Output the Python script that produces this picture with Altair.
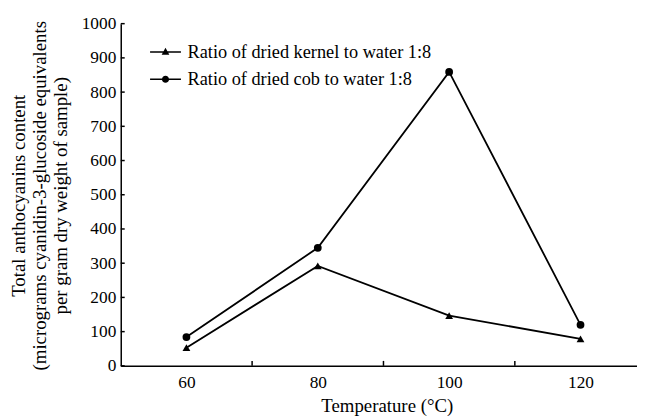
import altair as alt
import pandas as pd

temps = [60, 80, 100, 120]
kernel = [53, 292, 147, 79]
cob = [84, 345, 859, 120]
series_names = ["Ratio of dried kernel to water 1:8", "Ratio of dried cob to water 1:8"]
x_labels = [60, 80, 100, 120]
x_minor = [70, 90, 110]
y_ticks = [0, 100, 200, 300, 400, 500, 600, 700, 800, 900, 1000]

rows = []
for t, v in zip(temps, kernel):
    rows.append({"temp": t, "value": v, "series": series_names[0]})
for t, v in zip(temps, cob):
    rows.append({"temp": t, "value": v, "series": series_names[1]})
df = pd.DataFrame(rows)

FONT = "Liberation Serif"
W, H = 522, 346

xscale = alt.Scale(domain=[50, 128.6], nice=False, zero=False)
yscale = alt.Scale(domain=[0, 1000], nice=False)

x_axis = alt.Axis(values=x_labels, format="d", ticks=False, tickSize=0, grid=False,
                  labelPadding=8, labelOverlap=False,
                  labelFont=FONT, labelFontSize=17.5, labelColor="black",
                  domainColor="black", domainWidth=1.5,
                  title="Temperature (°C)", titleFont=FONT, titleFontSize=19,
                  titleFontWeight="normal", titleColor="black",
                  titleX=269, titleY=46.5, titleAlign="center",
                  titleBaseline="alphabetic", titleAnchor="start")
y_axis = alt.Axis(values=y_ticks, format="d", ticks=False, tickSize=0, grid=False,
                  labelPadding=5, labelOverlap=False,
                  labelFont=FONT, labelFontSize=17.5, labelColor="black",
                  domainColor="black", domainWidth=1.5,
                  title=["Total anthocyanins content",
                         "(micrograms cyanidin-3-glucoside equivalents",
                         "per gram dry weight of sample)"],
                  titleFont=FONT, titleFontSize=19, titleFontWeight="normal",
                  titleColor="black", titleLineHeight=21,
                  titleX=-103, titleY=173.5, titleAngle=270,
                  titleAlign="center", titleBaseline="middle", titleAnchor="start")

x_enc = alt.X("temp:Q", scale=xscale, axis=x_axis)
y_enc = alt.Y("value:Q", scale=yscale, axis=y_axis)

lines = alt.Chart(df).mark_line(color="black", strokeWidth=1.8).encode(
    x=x_enc, y=y_enc, detail="series:N")

points = alt.Chart(df).mark_point(filled=True, color="black", opacity=1, size=62).encode(
    x=x_enc, y=y_enc,
    shape=alt.Shape("series:N",
                    scale=alt.Scale(domain=series_names, range=["triangle-up", "circle"]),
                    legend=None))

tri_path = "M-2.6,-0.13H2.6V0.13H-2.6ZM0,-0.75L0.65,0.45L-0.65,0.45Z"
circ_path = "M-2.6,-0.13H2.6V0.13H-2.6ZM0.6,0A0.6,0.6,0,1,1,-0.6,0A0.6,0.6,0,1,1,0.6,0Z"

legend_layer = alt.Chart(df).mark_point(filled=True, color="black", size=0).encode(
    x=x_enc, y=y_enc,
    shape=alt.Shape("series:N",
                    scale=alt.Scale(domain=series_names, range=[tri_path, circ_path]),
                    legend=alt.Legend(title=None, orient="none", legendX=36, legendY=19.5,
                                      symbolSize=144, symbolFillColor="black",
                                      symbolStrokeColor="black", symbolStrokeWidth=0,
                                      symbolOpacity=1, labelFont=FONT, labelFontSize=18.5,
                                      labelColor="black", labelOffset=13, labelLimit=0,
                                      rowPadding=8.5, padding=0)))

x_minor_df = pd.DataFrame({"temp": x_minor})
x_minor_ticks = alt.Chart(x_minor_df).mark_rule(color="black", strokeWidth=1.5).encode(
    x=x_enc, y=alt.value(H), y2=alt.value(H - 5))

y_tick_df = pd.DataFrame({"value": y_ticks})
y_minor_ticks = alt.Chart(y_tick_df).mark_rule(color="black", strokeWidth=1.5).encode(
    y=y_enc, x=alt.value(0), x2=alt.value(4))

chart = alt.layer(lines, points, legend_layer, x_minor_ticks, y_minor_ticks).resolve_scale(
    shape="independent"
).properties(
    width=W, height=H,
    autosize=alt.AutoSizeParams(type="none"),
    padding={"left": 114, "top": 13.5, "right": 0, "bottom": 60},
    background="white",
).configure_view(stroke=None)

chart.save("out.html", embed_options={"renderer": "svg", "actions": False})
